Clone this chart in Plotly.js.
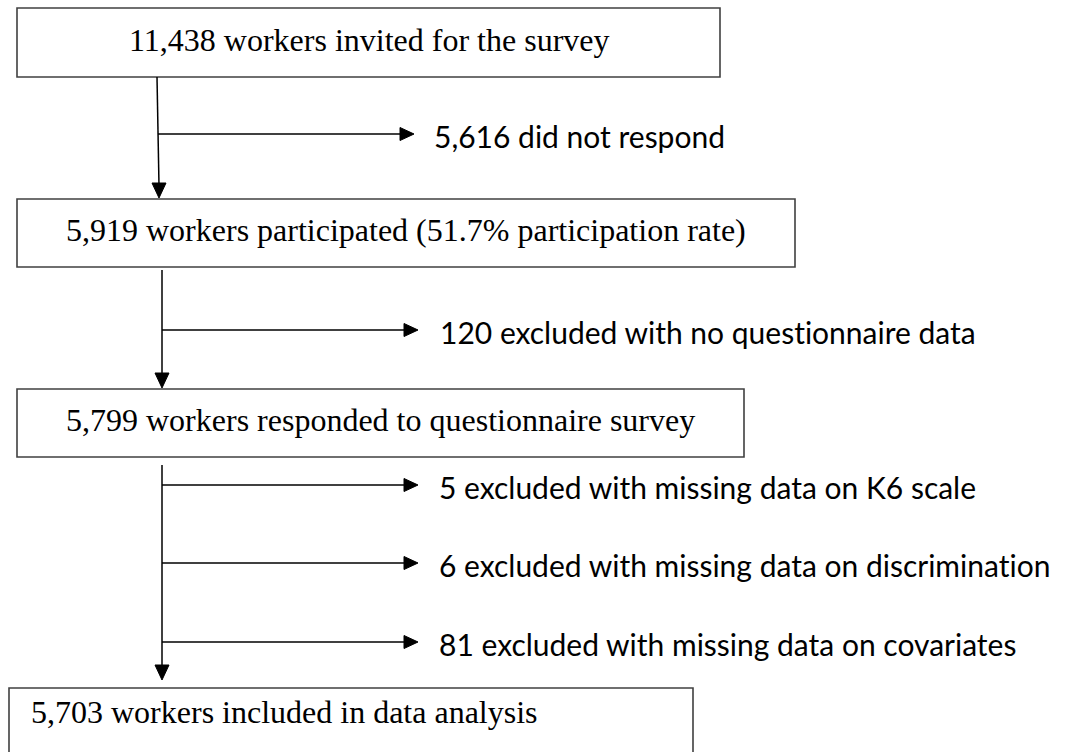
<!DOCTYPE html>
<html>
<head>
<meta charset="utf-8">
<script src="https://cdn.plot.ly/plotly-3.0.1.min.js"></script>
<style>html,body{margin:0;padding:0;background:#fff;} #chart{width:1065px;height:752px;} text{font-variant-ligatures:none;font-feature-settings:"liga" 0,"clig" 0;}</style>
</head>
<body>
<div id="chart"></div>
<script>
// ---- data ----
const stageCounts = ['11,438', '5,919', '5,799', '5,703'];
const stageLabels = [
  'workers invited for the survey',
  'workers participated (51.7% participation rate)',
  'workers responded to questionnaire survey',
  'workers included in data analysis'
];
const exclusionCounts = ['5,616', '120', '5', '6', '81'];
const exclusionLabels = [
  'did not respond',
  'excluded with no questionnaire data',
  'excluded with missing data on K6 scale',
  'excluded with missing data on discrimination',
  'excluded with missing data on covariates'
];

// ---- layout geometry (pixels, y downward) ----
const boxes = [
  {x0: 17, x1: 720, y0: 8,   y1: 77,  align: 'center'},
  {x0: 17, x1: 795, y0: 199, y1: 267, align: 'center'},
  {x0: 17, x1: 744, y0: 389, y1: 457, align: 'center'},
  {x0: 9,  x1: 693, y0: 688, y1: 790, align: 'left', textX: 29, textY: 712}
];
const trunks = [
  {x0: 157, x1: 159, y0: 77,  y1: 198},
  {x0: 162, x1: 162, y0: 270, y1: 388},
  {x0: 162, x1: 162, y0: 465, y1: 680}
];
const branches = [
  {trunk: 0, y: 134, tip: 414, textX: 432},
  {trunk: 1, y: 330, tip: 418, textX: 438},
  {trunk: 2, y: 485, tip: 418, textX: 437},
  {trunk: 2, y: 563, tip: 418, textX: 437},
  {trunk: 2, y: 642, tip: 418, textX: 437}
];

const shapes = [];
const annotations = [];
const serif = 'Liberation Serif, Times New Roman, serif';
const sans = 'Lato, Carlito, Calibri, sans-serif';

boxes.forEach((b, i) => {
  shapes.push({type: 'rect', xref: 'x', yref: 'y', x0: b.x0, x1: b.x1, y0: b.y0, y1: b.y1,
    line: {color: '#404040', width: 1.6}, fillcolor: 'rgba(0,0,0,0)', layer: 'above'});
  const txt = stageCounts[i] + ' ' + stageLabels[i];
  if (b.align === 'center') {
    annotations.push({x: (b.x0 + b.x1) / 2, y: (b.y0 + b.y1) / 2 - 3, xref: 'x', yref: 'y',
      text: txt, showarrow: false, xanchor: 'center', yanchor: 'middle',
      font: {family: serif, size: 32, color: '#000'}});
  } else {
    annotations.push({x: b.textX, y: b.textY, xref: 'x', yref: 'y',
      text: txt, showarrow: false, xanchor: 'left', yanchor: 'middle',
      font: {family: serif, size: 32, color: '#000'}});
  }
});

trunks.forEach(t => {
  shapes.push({type: 'line', xref: 'x', yref: 'y', x0: t.x0, x1: t.x1, y0: t.y0, y1: t.y1 - 12,
    line: {color: '#000', width: 1.5}});
  shapes.push({type: 'path', xref: 'x', yref: 'y',
    path: `M ${t.x1 - 7} ${t.y1 - 15} L ${t.x1} ${t.y1} L ${t.x1 + 7} ${t.y1 - 15} Z`,
    fillcolor: '#000', line: {color: '#000', width: 1}});
});

branches.forEach((br, i) => {
  const t = trunks[br.trunk];
  const frac = (br.y - t.y0) / (t.y1 - t.y0);
  const xs = t.x0 + (t.x1 - t.x0) * frac;
  shapes.push({type: 'line', xref: 'x', yref: 'y', x0: xs, x1: br.tip - 10, y0: br.y, y1: br.y,
    line: {color: '#000', width: 1.5}});
  shapes.push({type: 'path', xref: 'x', yref: 'y',
    path: `M ${br.tip - 14} ${br.y - 6.5} L ${br.tip} ${br.y} L ${br.tip - 14} ${br.y + 6.5} Z`,
    fillcolor: '#000', line: {color: '#000', width: 1}});
  annotations.push({x: br.textX, y: br.y + 2, xref: 'x', yref: 'y',
    text: exclusionCounts[i] + ' ' + exclusionLabels[i], showarrow: false,
    xanchor: 'left', yanchor: 'middle',
    font: {family: sans, size: 30, color: '#000'}});
});

const layout = {
  width: 1065, height: 752,
  margin: {l: 0, r: 0, t: 0, b: 0},
  paper_bgcolor: '#fff', plot_bgcolor: '#fff',
  xaxis: {range: [0, 1065], visible: false, fixedrange: true},
  yaxis: {range: [752, 0], visible: false, fixedrange: true},
  shapes: shapes,
  annotations: annotations,
  showlegend: false
};

Plotly.newPlot('chart', [], layout, {staticPlot: true, displayModeBar: false});
</script>
</body>
</html>
